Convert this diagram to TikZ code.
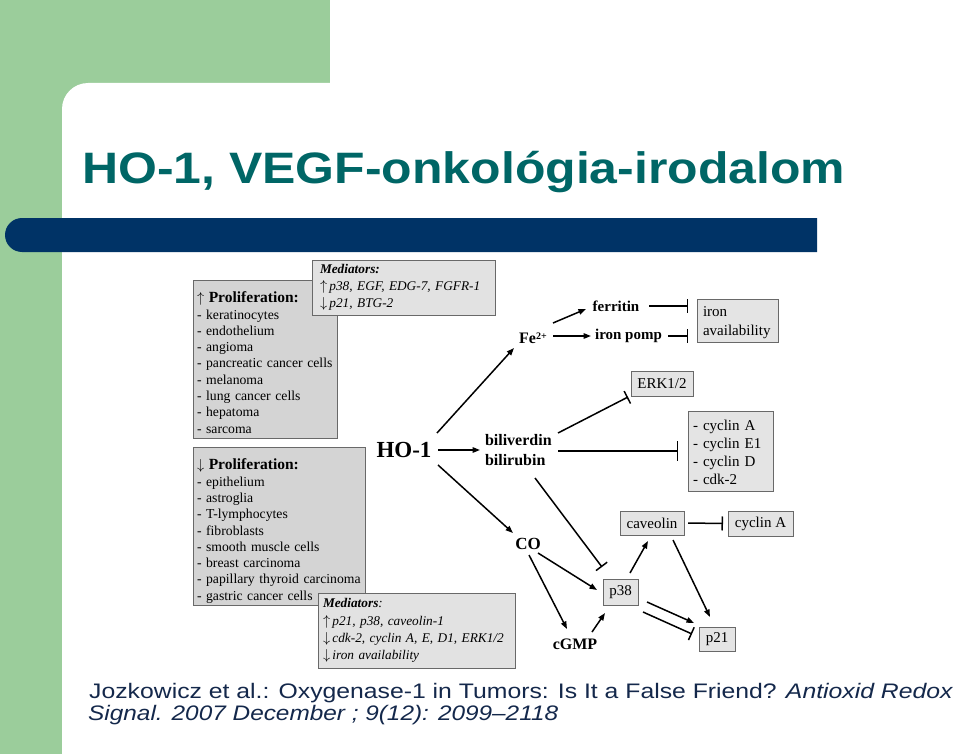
\documentclass[tikz,border=0pt]{standalone}
\usepackage{graphicx}
\usepackage{fontspec}
\setmainfont{Liberation Serif}
\newfontfamily\arialfont{Liberation Sans}
\usetikzlibrary{arrows.meta}
\definecolor{slidegreen}{RGB}{155,205,155}
\definecolor{slidenavy}{RGB}{0,51,102}
\definecolor{titleteal}{RGB}{0,102,102}
\definecolor{citenavy}{RGB}{20,40,75}
\definecolor{boxgray}{RGB}{212,212,212}
\definecolor{medgray}{RGB}{226,226,226}
\definecolor{smallgray}{RGB}{228,228,228}
\definecolor{boxline}{RGB}{105,105,105}
\newcommand{\upar}{$\uparrow$}
\newcommand{\dnar}{$\downarrow$}
\begin{document}
\begin{tikzpicture}[x=1pt,y=-1pt,
  lbl/.style={inner sep=0pt, outer sep=0pt, font=\fontsize{16}{19}\selectfont\bfseries},
  sbox/.style={draw=boxline, fill=smallgray, line width=0.9pt, inner sep=0pt, outer sep=0pt, font=\fontsize{15}{18}\selectfont},
  bigbox/.style={draw=boxline, fill=boxgray, line width=0.9pt, inner ysep=0pt, outer sep=0pt, align=left},
  arr/.style={line width=1.5pt, -{Triangle[length=7.5pt,width=5.5pt]}},
  inh/.style={line width=1.5pt, -{Bar[width=14pt,line width=1.5pt]}}]
\useasboundingbox (0,0) rectangle (960,754);
% background
\fill[white] (0,0) rectangle (960,754);
\fill[slidegreen] (0,0) rectangle (330,120);
\fill[slidegreen] (0,0) rectangle (100,754);
\fill[white, rounded corners=26pt] (62,83) rectangle (1000,800);
\fill[slidenavy] (817,218) [rounded corners=17pt] -- (5,218) -- (5,252) [sharp corners] -- (817,252) -- cycle;
% title
\node[anchor=base west, inner sep=0pt, text=titleteal] (title) at (82,183)
  {\resizebox{763pt}{\height}{\arialfont\bfseries\fontsize{44}{50}\selectfont HO-1, VEGF-onkológia-irodalom}};
% citation
\node[anchor=base west, inner sep=0pt, text=citenavy] (cite1) at (89,698)
  {\resizebox{864pt}{\height}{\arialfont\fontsize{21}{25}\selectfont Jozkowicz et al.: Oxygenase-1 in Tumors: Is It a False Friend? \textit{Antioxid Redox}}};
\node[anchor=base west, inner sep=0pt, text=citenavy] (cite2) at (88,720)
  {\resizebox{470pt}{\height}{\arialfont\itshape\fontsize{21}{25}\selectfont Signal. 2007 December ; 9(12): 2099–2118}};

% big boxes
\node[bigbox, text width=136pt, inner xsep=4pt, minimum height=158pt,
  font=\fontsize{13.7}{16.3}\selectfont] (prolup) at (265,359)
  {\rule{0pt}{18pt}{\fontsize{15.5}{16.3}\selectfont\bfseries \upar\ Proliferation:}\\
   - keratinocytes\\ - endothelium\\ - angioma\\ - pancreatic cancer cells\\
   - melanoma\\ - lung cancer cells\\ - hepatoma\\ - sarcoma};
\node[bigbox, fill=medgray, text width=167pt, inner xsep=8pt, minimum height=55pt,
  font=\fontsize{13.3}{17}\selectfont] (medup) at (403.5,287.5)
  {\textbf{\textit{Mediators:}}\\
   \mbox{\upar\,\textit{p38, EGF, EDG-7, FGFR-1}}\\
   \mbox{\dnar\,\textit{p21, BTG-2}}};
\node[bigbox, text width=164pt, inner xsep=4pt, minimum height=158pt,
  font=\fontsize{13.7}{16.3}\selectfont] (proldn) at (279,526)
  {\rule{0pt}{21pt}{\fontsize{15.5}{16.3}\selectfont\bfseries \dnar\ Proliferation:}\\
   - epithelium\\ - astroglia\\ - T-lymphocytes\\ - fibroblasts\\
   - smooth muscle cells\\ - breast carcinoma\\ \mbox{- papillary thyroid carcinoma}\\ - gastric cancer cells};
\node[bigbox, fill=medgray, text width=187pt, inner xsep=5pt, minimum height=75pt,
  font=\fontsize{13.3}{17.3}\selectfont] (meddn) at (416.5,630.5)
  {\textbf{\textit{Mediators}}\textit{:}\\
   \mbox{\upar\,\textit{p21, p38, caveolin-1}}\\
   \mbox{\dnar\,\textit{cdk-2, cyclin A, E, D1, ERK1/2}}\\
   \mbox{\dnar\,\textit{iron availability}}};

% labels
\node[lbl, anchor=base, font=\fontsize{23}{26}\selectfont\bfseries] (ho1) at (404,457) {HO-1};
\node[lbl, anchor=base] (fe) at (533,343) {Fe\raisebox{4pt}{\fontsize{10}{10}\selectfont 2+}};
\node[lbl, anchor=base, font=\fontsize{15}{18}\selectfont\bfseries] (ferritin) at (616,311) {ferritin};
\node[lbl, anchor=base, font=\fontsize{15}{18}\selectfont\bfseries] (pomp) at (628.5,339) {iron pomp};
\node[lbl, anchor=base west] (biliv) at (485,445) {biliverdin};
\node[lbl, anchor=base west] (bilir) at (485,465) {bilirubin};
\node[lbl, anchor=base, font=\fontsize{17}{20}\selectfont\bfseries] (co) at (528,549) {CO};
\node[lbl, anchor=base] (cgmp) at (575,649) {cGMP};

% small boxes
\node[sbox, minimum width=81pt, minimum height=43pt, text width=69pt, inner xsep=6pt, align=left,
  font=\fontsize{15}{19}\selectfont] (ironav) at (737.5,320.5) {\rule{0pt}{15pt}iron\\availability};
\node[sbox, minimum width=62pt, minimum height=25pt] (erk) at (662,383.5) {ERK1/2};
\node[sbox, minimum width=85pt, minimum height=80pt, text width=75pt, inner xsep=5pt, align=left,
  font=\fontsize{15}{18}\selectfont] (cyc) at (730.5,451) {\rule{0pt}{14pt}- cyclin A\\- cyclin E1\\- cyclin D\\- cdk-2};
\node[sbox, minimum width=64pt, minimum height=24pt] (cav) at (652,523) {caveolin};
\node[sbox, minimum width=65pt, minimum height=25pt] (cyca) at (760.5,523.5) {cyclin A};
\node[sbox, minimum width=35pt, minimum height=26pt] (p38) at (620.5,592) {p38};
\node[sbox, minimum width=36pt, minimum height=24pt] (p21) at (717,639) {p21};

% connectors
\draw[arr] ([shift={(33,-24)}]ho1.base) -- ([shift={(-19,5)}]fe.base);
\draw[arr] ([shift={(20,-20)}]fe.base) -- ([shift={(-30,-2)}]ferritin.base);
\draw[arr] ([shift={(20,-7)}]fe.base) -- ([shift={(-37.5,-3)}]pomp.base);
\draw[inh] ([shift={(33,-5)}]ferritin.base) -- ([shift={(-9,-14.5)}]ironav.west);
\draw[inh] ([shift={(39.5,-3)}]pomp.base) -- ([shift={(-9,15.5)}]ironav.west);
\draw[arr] ([shift={(34,-7)}]ho1.base) -- ([shift={(-5,5)}]biliv.base west);
\draw[inh] ([shift={(73,-12)}]biliv.base west) -- ([shift={(-3,1)}]erk.south west);
\draw[line width=1.5pt, -{Bar[width=20pt,line width=1.5pt]}] ([shift={(73,-14)}]bilir.base west) -- ([shift={(-10,0)}]cyc.west);
\draw[arr] ([shift={(34,8)}]ho1.base) -- ([shift={(-15,-16)}]co.base);
\draw[inh] ([shift={(50,13)}]bilir.base west) -- ([shift={(-1,-12)}]p38.north west);
\draw[arr] ([shift={(10,4)}]co.base) -- ([shift={(-6,-2)}]p38.west);
\draw[arr] ([shift={(1,6)}]co.base) -- ([shift={(-8,-20)}]cgmp.base);
\draw[arr] ([shift={(17,-17)}]cgmp.base) -- ([shift={(-15.5,8)}]p38.south);
\draw[arr] ([shift={(9.5,-6)}]p38.north) -- ([shift={(-4,6)}]cav.south);
\draw[inh] ([shift={(4,0)}]cav.east) -- ([shift={(-5,0)}]cyca.west);
\draw[arr] ([shift={(21,5)}]cav.south) -- ([shift={(-7,-10)}]p21.north);
\draw[arr] ([shift={(9,10)}]p38.east) -- ([shift={(-5,-16)}]p21.west);
\draw[inh] ([shift={(5,20)}]p38.east) -- ([shift={(-7,-5)}]p21.west);
\end{tikzpicture}
\end{document}
